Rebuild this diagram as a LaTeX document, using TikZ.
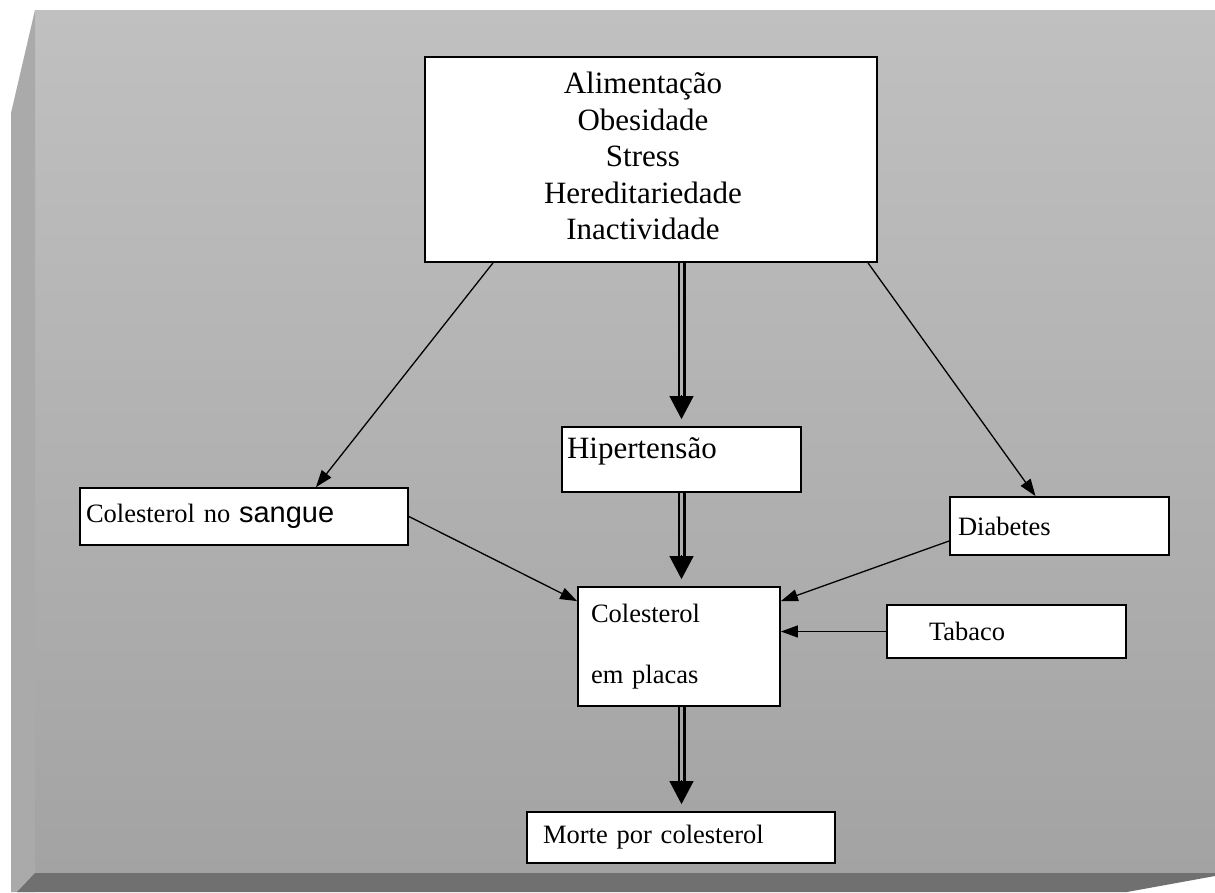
\documentclass[tikz,border=0pt]{standalone}
\usepackage{fontspec}
\setmainfont{Liberation Serif}
\setsansfont{Liberation Sans}
\usetikzlibrary{arrows.meta}

\definecolor{facetop}{HTML}{C0C0C0}
\definecolor{facebot}{HTML}{A3A3A3}
\definecolor{bevel}{HTML}{AAAAAA}
\definecolor{band}{HTML}{707070}

\begin{document}
\begin{tikzpicture}[x=1pt,y=-1pt,
box/.style={draw,fill=white,line width=1.8pt,inner ysep=0pt},
small/.style={font=\fontsize{26.5}{30}\selectfont,align=left},
arr/.style={-{Triangle[length=17pt,width=12pt]},line width=1.3pt},
head/.style={-{Triangle[length=23pt,width=24pt]},line width=1pt},
rail/.style={double=#1,double distance=3pt,line width=2.5pt}]
\useasboundingbox (0,0) rectangle (1215,892);
% moldura
\shade[top color=facetop,bottom color=facebot] (35,10) rectangle (1215,873);
\fill[bevel] (11,113) -- (35,10) -- (35,892) -- (11,892) -- cycle;
\fill[band] (35,873) -- (1215,873) -- (1215,876) -- (1127,892) -- (17,892) -- cycle;
% caixas
\node[box,minimum width=452pt,minimum height=205pt,inner sep=0pt,
  font=\fontsize{31}{36.5}\selectfont] (causas) at (651,159.5)
  {\begin{tabular}{@{}c@{}}Alimentação\\Obesidade\\Stress\\Hereditariedade\\Inactividade\end{tabular}\hspace*{16pt}};
\node[box,minimum height=65pt,text width=229pt,inner xsep=5pt,align=left,
  font=\fontsize{31}{36}\selectfont] (hiper) at (681.5,459.5) {\raisebox{8pt}[\height][\depth]{Hipertensão}};
\node[box,small,minimum height=57pt,text width=316pt,inner xsep=6pt] (sangue) at (244,516.5)
  {Colesterol no {\sffamily\fontsize{29}{34}\selectfont sangue}};
\node[box,small,minimum height=58pt,text width=203pt,inner xsep=8pt] (diab) at (1059.5,526) {Diabetes};
\node[box,small,minimum height=119pt,text width=176pt,inner xsep=13pt,
  font=\fontsize{26.5}{61}\selectfont] (placas) at (679,646.5) {Colesterol\\em placas};
\node[box,small,minimum height=53pt,text width=155pt,inner xsep=42pt] (tabaco) at (1006.5,631.5) {Tabaco};
\node[box,small,minimum height=51pt,text width=276pt,inner xsep=16pt] (morte) at (681,837.5) {Morte por colesterol};
% setas
\path[arr] ([xshift=-158pt]causas.south) edge ([xshift=72pt]sangue.north)
  ([xshift=217pt]causas.south) edge ([xshift=-24pt]diab.north)
  (sangue.east) edge ([yshift=-15pt]placas.north west)
  ([yshift=-15pt]diab.west) edge ([yshift=-15pt]placas.north east)
  (tabaco.west) edge (placas.east |- tabaco.west);
\draw[rail=facetop!55!facebot] (causas.south -| hiper.north) -- ([yshift=30pt]hiper.north);
\draw[head] ([yshift=31pt]hiper.north) -- ([yshift=7pt]hiper.north);
\draw[rail=facetop!35!facebot] (hiper.south) -- ([yshift=30pt]placas.north -| hiper.south);
\draw[head] ([yshift=31pt]placas.north -| hiper.south) -- ([yshift=7pt]placas.north -| hiper.south);
\draw[rail=facetop!15!facebot] (placas.south -| hiper.south) -- ([yshift=30pt]morte.north -| hiper.south);
\draw[head] ([yshift=31pt]morte.north -| hiper.south) -- ([yshift=7pt]morte.north -| hiper.south);
\end{tikzpicture}
\end{document}
